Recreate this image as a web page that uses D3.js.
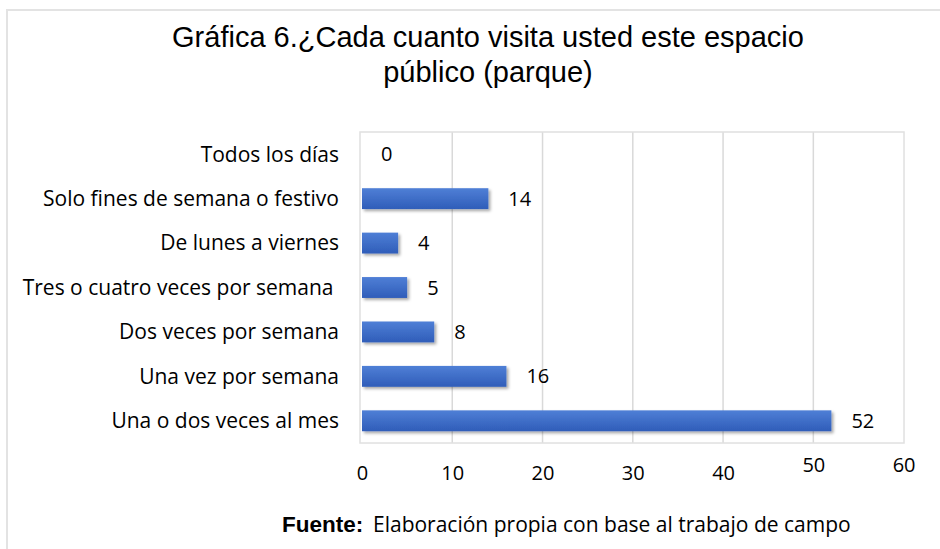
<!DOCTYPE html>
<html>
<head>
<meta charset="utf-8">
<script src="https://cdn.jsdelivr.net/npm/d3@7"></script>
<style>
  body { margin: 0; background: #fff; }
  svg { display: block; }
</style>
</head>
<body>
<svg id="chart" width="940" height="549"></svg>
<script>
// data
var categories = [
    "Todos los días",
    "Solo fines de semana o festivo",
    "De lunes a viernes",
    "Tres o cuatro veces por semana\u00a0",
    "Dos veces por semana",
    "Una vez por semana",
    "Una o dos veces al mes"
];
var values = [0, 14, 4, 5, 8, 16, 52];
var xTicks = [0, 10, 20, 30, 40, 50, 60];
var titleLines = ["Gráfica 6.¿Cada cuanto visita usted este espacio", "público (parque)"];

var svg = d3.select("#chart");
var labelFont = "'Open Sans', sans-serif";

// outer frame
svg.append("rect")
    .attr("x", 7).attr("y", 10)
    .attr("width", 940).attr("height", 560)
    .attr("fill", "none")
    .attr("stroke", "#e3e3e3")
    .attr("stroke-width", 2);

// bar gradient + shadow
var defs = svg.append("defs");
var grad = defs.append("linearGradient")
    .attr("id", "barGrad")
    .attr("x1", 0).attr("y1", 0).attr("x2", 0).attr("y2", 1);
grad.append("stop").attr("offset", "0%").attr("stop-color", "#4f7fd6");
grad.append("stop").attr("offset", "100%").attr("stop-color", "#2f5db9");

var shadow = defs.append("filter")
    .attr("id", "barShadow")
    .attr("x", "-10%").attr("y", "-30%")
    .attr("width", "130%").attr("height", "180%");
shadow.append("feDropShadow")
    .attr("dx", 2).attr("dy", 2)
    .attr("stdDeviation", 1.6)
    .attr("flood-color", "#000")
    .attr("flood-opacity", 0.35);

var x = d3.scaleLinear().domain([0, 60]).range([362, 903.6]);
var y = d3.scaleBand().domain(categories).range([132, 443]).paddingInner(0.53).paddingOuter(0.265);

// gridlines
svg.append("g")
    .selectAll("line")
    .data(xTicks.slice(1, -1))
    .join("line")
    .attr("x1", function (d) { return x(d); })
    .attr("x2", function (d) { return x(d); })
    .attr("y1", 132).attr("y2", 443)
    .attr("stroke", "#d9d9d9")
    .attr("stroke-width", 1.5);

// plot area border
svg.append("rect")
    .attr("x", 360).attr("y", 132)
    .attr("width", 904 - 360).attr("height", 443 - 132)
    .attr("fill", "none")
    .attr("stroke", "#e0e0e0")
    .attr("stroke-width", 1.5);

// bars
svg.append("g")
    .selectAll("rect")
    .data(values)
    .join("rect")
    .attr("x", x(0))
    .attr("y", function (d, i) { return y(categories[i]); })
    .attr("width", function (d) { return x(d) - x(0); })
    .attr("height", y.bandwidth())
    .attr("fill", "url(#barGrad)")
    .attr("filter", "url(#barShadow)");

// value labels
svg.append("g")
    .selectAll("text")
    .data(values)
    .join("text")
    .attr("x", function (d) { return x(d) + (d === 0 ? 19 : 20); })
    .attr("y", function (d, i) { return y(categories[i]) + y.bandwidth() / 2; })
    .attr("dy", "0.35em")
    .attr("font-family", labelFont)
    .attr("font-size", 20)
    .attr("fill", "#000")
    .text(function (d) { return d; });

// category axis
var yAxis = svg.append("g")
    .attr("transform", "translate(339,0)")
    .call(d3.axisLeft(y).tickSize(0).tickPadding(0));
yAxis.select(".domain").remove();
yAxis.selectAll("text")
    .attr("font-family", labelFont)
    .attr("font-size", 21)
    .attr("fill", "#000")
    .attr("dy", "0.35em")
    .style("white-space", "pre");

// value axis
var xAxis = svg.append("g")
    .attr("transform", "translate(0,466)")
    .call(d3.axisBottom(x).tickValues(xTicks).tickSize(0).tickPadding(0));
xAxis.select(".domain").remove();
xAxis.selectAll("text")
    .attr("font-family", labelFont)
    .attr("font-size", 20)
    .attr("fill", "#000")
    .attr("dy", function (d) { return d >= 50 ? "0.3em" : "0.7em"; });

// title
svg.append("text")
    .attr("x", 488)
    .attr("text-anchor", "middle")
    .attr("font-family", "'Liberation Sans', Arial, sans-serif")
    .attr("font-size", 29)
    .attr("fill", "#000")
    .selectAll("tspan")
    .data(titleLines)
    .join("tspan")
    .attr("x", 488)
    .attr("y", function (d, i) { return 47 + i * 35; })
    .text(function (d) { return d; });

// source note
var note = svg.append("g").attr("fill", "#000");
note.append("text")
    .attr("x", 282).attr("y", 532)
    .attr("font-family", "'Liberation Sans', Arial, sans-serif")
    .attr("font-weight", "bold")
    .attr("font-size", 22.5)
    .text("Fuente:");
note.append("text")
    .attr("x", 373).attr("y", 532)
    .attr("font-family", labelFont)
    .attr("font-size", 21)
    .text("Elaboración propia con base al trabajo de campo");
</script>
</body>
</html>
